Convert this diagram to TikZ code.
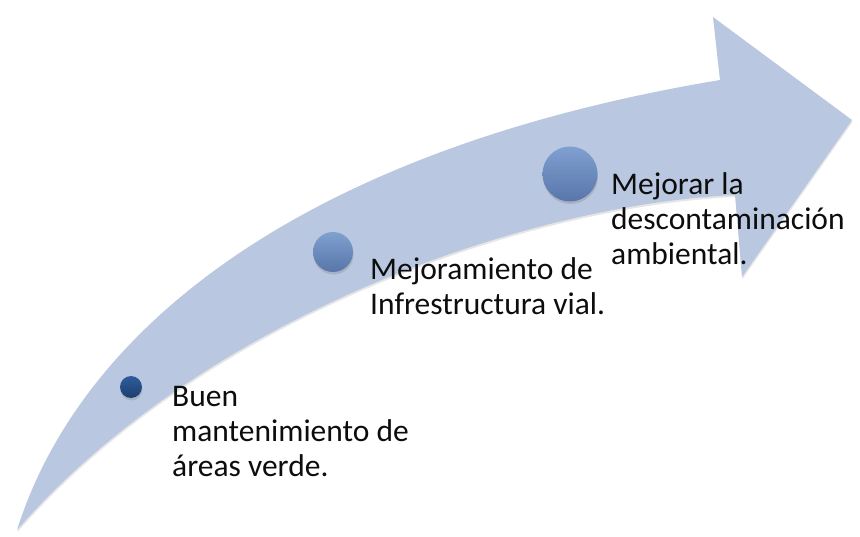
\documentclass[tikz,border=0pt]{standalone}
\usepackage{fontspec}
\setmainfont{Carlito}
\usetikzlibrary{shadows}
\definecolor{bandblue}{RGB}{185,199,224}
\definecolor{dottop}{RGB}{128,160,208}
\definecolor{dotbot}{RGB}{88,118,170}
\definecolor{smalltop}{RGB}{48,92,155}
\definecolor{smallbot}{RGB}{28,62,112}
\definecolor{inktext}{RGB}{13,13,13}
\tikzset{
  stepdot/.style={circle,inner sep=0pt,top color=dottop,bottom color=dotbot,
    drop shadow={shadow xshift=0.5pt,shadow yshift=-2.5pt,opacity=0.3}},
  steptext/.style={inner sep=0pt,align=left,text=inktext,anchor=base west,
    font=\fontsize{31.5}{35}\selectfont}
}
\begin{document}
\begin{tikzpicture}[x=1pt,y=-1pt]
	  \useasboundingbox (0,0) rectangle (860,537);
	  % curved arrow
	  \fill[bandblue,drop shadow={shadow xshift=0.5pt,shadow yshift=-2pt,opacity=0.2}]
	    (17,530) .. controls (80,330) and (300,150) .. (720,80)
	    -- (713,17) -- (852,120) -- (742,277) -- (735,195)
	    .. controls (520,205) and (200,320) .. (17,530) -- cycle;
	  \node[stepdot,minimum size=22pt,top color=smalltop,bottom color=smallbot] (d1) at (131,387) {};
	  \node[stepdot,minimum size=40pt] (d2) at (333,252) {};
	  \node[stepdot,minimum size=55pt] (d3) at (570,174) {};
	  % base = last line
	  \node[steptext] (t1) at (172,476) {Buen\\mantenimiento de\\áreas verde.};
	  \node[steptext] (t2) at (370,315) {Mejoramiento de\\Infrestructura vial.};
	  \node[steptext] (t3) at (611,265) {Mejorar la\\descontaminación\\ambiental.};
	\end{tikzpicture}
\end{document}
